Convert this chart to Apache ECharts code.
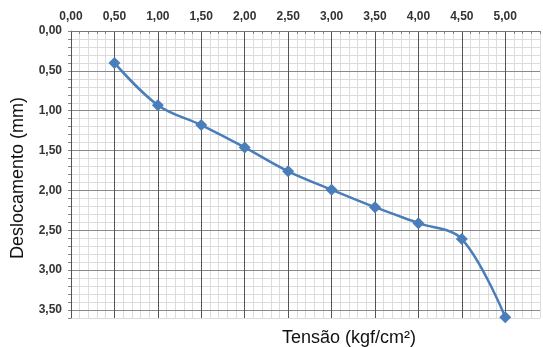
<!DOCTYPE html>
<html>
<head>
<meta charset="utf-8">
<script src="https://cdn.jsdelivr.net/npm/echarts@6/dist/echarts.min.js"></script>
<style>html,body{margin:0;padding:0;background:#fff}#c{width:543px;height:347px}</style>
</head>
<body>
<div id="c"></div>
<script>
const tensao = [0.5, 1.0, 1.5, 2.0, 2.5, 3.0, 3.5, 4.0, 4.5, 5.0];
const deslocamento = [0.40, 0.93, 1.18, 1.46, 1.76, 1.99, 2.21, 2.41, 2.61, 3.59];
const xTitle = 'Tensão (kgf/cm²)';
const yTitle = 'Deslocamento (mm)';

function fmt(v) {
  const r = v / 0.5;
  if (Math.abs(r - Math.round(r)) < 1e-6) return v.toFixed(2).replace('.', ',');
  return '';
}
const labelStyle = {fontFamily: 'Liberation Sans', fontWeight: 'bold', fontSize: 12, color: '#333'};
const minor = '#dcdcdc';
const xMajorColors = ['#555','#555','#555','#555','#555','#555','#555','#555','#555','#555','#555','rgba(0,0,0,0)'];
const yMajorColors = ['#8a8a8a','#8a8a8a','#8a8a8a','#8a8a8a','#8a8a8a','#8a8a8a','#8a8a8a','#8a8a8a','rgba(0,0,0,0)'];
const chart = echarts.init(document.getElementById('c'));
chart.setOption({
  animation: false,
  grid: {left: 71, top: 31, right: 1, bottom: 29, containLabel: false},
  xAxis: [{
    type: 'value', position: 'top', min: 0, max: 5.4, interval: 0.1, z: 0,
    axisLine: {show: false},
    axisTick: {show: false},
    axisLabel: Object.assign({formatter: fmt, margin: 8}, labelStyle),
    splitLine: {show: true, lineStyle: {width: 1, color: minor}}
  }, {
    type: 'value', position: 'bottom', min: 0, max: 5.4, interval: 0.1, z: 1,
    axisLine: {show: true, lineStyle: {color: '#888', width: 1}},
    axisTick: {show: true, length: 3, lineStyle: {color: '#888'}},
    axisLabel: {show: false},
    splitLine: {show: false}
  }, {
    type: 'value', position: 'top', min: 0, max: 5.4, interval: 0.5, z: 3,
    axisLine: {show: true, lineStyle: {color: '#777', width: 1}},
    axisTick: {show: false},
    axisLabel: {show: false},
    splitLine: {show: true, lineStyle: {width: 1, color: xMajorColors}}
  }],
  yAxis: [{
    type: 'value', inverse: true, min: 0, max: 3.6, interval: 0.1, z: 0,
    axisLine: {show: true, lineStyle: {color: '#888', width: 1}},
    axisTick: {show: true, length: 3, lineStyle: {color: '#888'}},
    axisLabel: Object.assign({formatter: fmt, margin: 9}, labelStyle),
    splitLine: {show: true, lineStyle: {width: 1, color: minor}}
  }, {
    type: 'value', inverse: true, min: 0, max: 3.6, interval: 0.5, z: 2, position: 'left',
    axisLine: {show: false},
    axisTick: {show: false},
    axisLabel: {show: false},
    splitLine: {show: true, lineStyle: {width: 1, color: yMajorColors}}
  }],
  series: [{
    type: 'line', z: 5,
    data: tensao.map((x, i) => [x, deslocamento[i]]),
    smooth: 0.35,
    symbol: 'diamond', symbolSize: 12,
    lineStyle: {color: '#4a7ebb', width: 2.5},
    itemStyle: {color: '#4a7ebb'}
  }],
  graphic: [
    {type: 'text', x: 349, y: 338, style: {text: xTitle, align: 'center', verticalAlign: 'middle', font: '18px "Liberation Sans"', fill: '#111'}},
    {type: 'text', rotation: Math.PI / 2, x: 18, y: 178, style: {text: yTitle, align: 'center', verticalAlign: 'middle', font: '18px "Liberation Sans"', fill: '#111'}}
  ]
});
</script>
</body>
</html>
